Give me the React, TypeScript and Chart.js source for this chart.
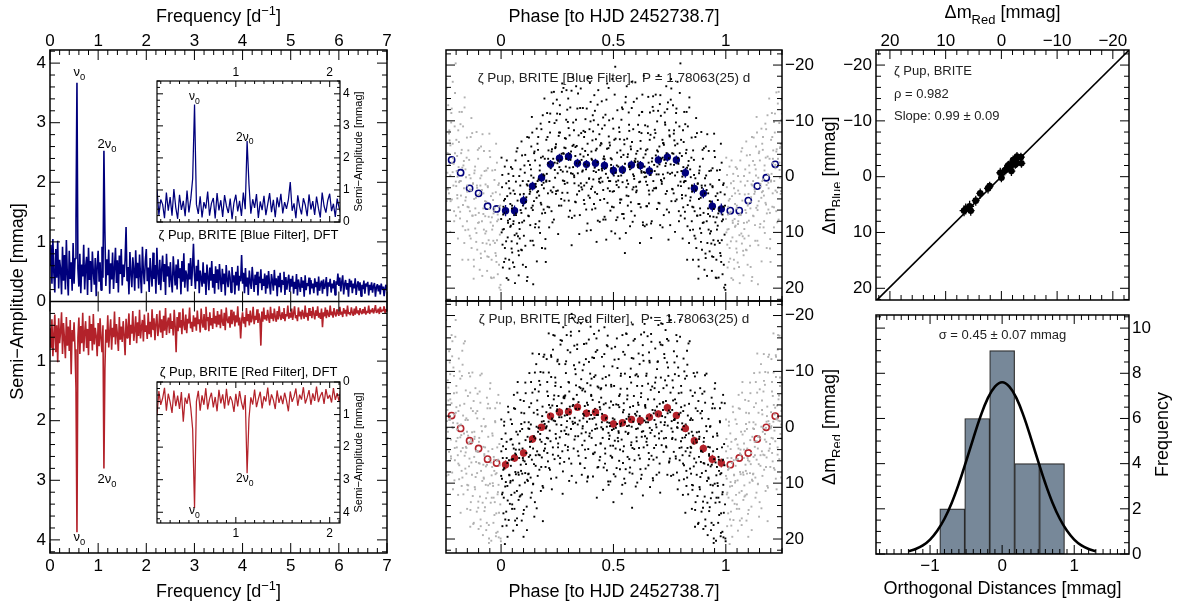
import React, { useEffect, useRef } from 'react';
import { Chart, registerables } from 'chart.js';

Chart.register(...registerables);

const FONT = '"Liberation Sans", Arial, Helvetica, sans-serif';
Chart.defaults.font.family = FONT;
Chart.defaults.color = '#000';

const NAVY = '#00007c';
const FIREBRICK = '#b3222a';
const GRAY_DOT = '#b0b0b0';
const HIST_FILL = '#778899';

// ---------------- DFT spectra (semi-amplitude, mmag), frequency grid 0..7 d^-1 ----------------
const FREQ_STEP = 0.02;
const blueAmp = [
  0.62, 0.95, 0.30, 1.05, 0.48, 0.15, 0.88, 0.40, 1.02, 0.22, 0.70, 0.55, 0.12, 0.92, 0.35, 0.78, 0.20, 1.03, 0.45, 0.10, 0.85, 0.38, 0.66, 0.18, 0.98,
  0.30, 0.72, 1.35, 3.67, 0.55, 0.25, 0.80, 0.14, 0.62, 0.42, 0.95, 0.20, 0.58, 0.75, 0.11, 0.90, 0.36, 0.68, 0.16, 0.84, 0.50, 0.28, 0.73, 0.09, 0.60,
  0.85, 0.33, 0.66, 0.19, 0.92, 0.40, 2.53, 1.18, 0.26, 0.71, 0.44, 0.87, 0.13, 0.64, 0.37, 0.82, 0.21, 0.56, 0.90, 0.31, 0.69, 0.15, 0.77, 0.46, 0.88,
  0.27, 0.62, 0.41, 0.70, 1.25, 0.35, 0.58, 0.12, 0.83, 0.47, 0.24, 0.74, 0.53, 0.18, 0.86, 0.39, 0.65, 0.22, 0.79, 0.43, 0.14, 0.92, 0.50, 0.29, 0.68,
  0.88, 0.34, 0.57, 0.16, 0.73, 0.45, 0.25, 0.82, 0.38, 0.61, 0.13, 0.90, 0.48, 0.28, 0.70, 0.19, 0.55, 0.77, 0.33, 0.63, 0.11, 0.80, 0.42, 0.59, 0.24,
  0.66, 0.36, 0.15, 0.76, 0.49, 0.27, 0.62, 0.20, 0.71, 0.40, 0.56, 0.12, 0.68, 0.33, 0.81, 0.23, 0.52, 0.44, 0.17, 0.64, 0.37, 0.73, 0.26, 0.58, 0.97,
  0.45, 0.21, 0.60, 0.34, 0.70, 0.14, 0.52, 0.39, 0.25, 0.66, 0.30, 0.48, 0.11, 0.62, 0.42, 0.19, 0.57, 0.35, 0.68, 0.23, 0.46, 0.13, 0.59, 0.31, 0.54,
  0.20, 0.63, 0.38, 0.16, 0.55, 0.29, 0.47, 0.10, 0.61, 0.36, 0.24, 0.52, 0.41, 0.15, 0.58, 0.32, 0.44, 0.12, 0.50, 0.27, 0.60, 0.18, 0.43, 0.34, 0.78,
  0.30, 0.48, 0.14, 0.56, 0.25, 0.40, 0.11, 0.52, 0.33, 0.21, 0.58, 0.37, 0.16, 0.45, 0.28, 0.50, 0.10, 0.42, 0.31, 0.54, 0.19, 0.38, 0.26, 0.47, 0.13,
  0.44, 0.22, 0.51, 0.30, 0.12, 0.46, 0.35, 0.18, 0.53, 0.27, 0.39, 0.09, 0.43, 0.24, 0.48, 0.15, 0.36, 0.29, 0.50, 0.11, 0.41, 0.20, 0.34, 0.45, 0.16,
  0.38, 0.25, 0.43, 0.13, 0.33, 0.21, 0.46, 0.10, 0.37, 0.28, 0.16, 0.41, 0.23, 0.35, 0.08, 0.44, 0.19, 0.31, 0.26, 0.40, 0.12, 0.36, 0.22, 0.30, 0.14,
  0.39, 0.24, 0.33, 0.10, 0.42, 0.18, 0.29, 0.35, 0.13, 0.37, 0.21, 0.27, 0.41, 0.09, 0.32, 0.25, 0.38, 0.15, 0.30, 0.22, 0.36, 0.11, 0.34, 0.28, 0.47,
  0.26, 0.40, 0.17, 0.33, 0.44, 0.12, 0.29, 0.36, 0.20, 0.31, 0.08, 0.38, 0.24, 0.35, 0.14, 0.30, 0.22, 0.39, 0.11, 0.27, 0.34, 0.18, 0.32, 0.09, 0.28,
  0.21, 0.35, 0.13, 0.30, 0.25, 0.33, 0.10, 0.28, 0.19, 0.32, 0.15, 0.26, 0.31, 0.08, 0.24, 0.29, 0.17, 0.27, 0.12, 0.30, 0.20, 0.25, 0.09, 0.23, 0.28, 0.18,
];
const redAmp = [
  0.45, 0.78, 0.30, 0.92, 0.55, 0.22, 0.85, 0.40, 1.02, 0.28, 0.70, 0.50, 0.18, 0.88, 0.36, 0.62, 0.95, 0.26, 0.74, 0.42, 0.83, 0.31, 1.22, 0.48, 0.67,
  0.35, 0.80, 1.45, 3.87, 0.60, 0.27, 0.88, 0.41, 0.70, 0.19, 0.84, 0.52, 0.33, 0.78, 0.46, 0.90, 0.24, 0.66, 0.38, 0.82, 0.21, 0.72, 0.44, 0.58, 0.92,
  0.36, 0.75, 0.28, 0.63, 0.85, 0.40, 2.80, 1.13, 0.47, 0.69, 0.23, 0.77, 0.52, 0.30, 0.81, 0.44, 0.60, 0.17, 0.72, 0.38, 0.55, 0.83, 0.26, 0.64, 0.42,
  0.68, 0.33, 0.57, 0.90, 0.29, 0.61, 0.45, 0.20, 0.73, 0.39, 0.54, 0.16, 0.66, 0.48, 0.25, 0.70, 0.35, 0.58, 0.14, 0.62, 0.43, 0.31, 0.67, 0.22, 0.51,
  0.40, 0.63, 0.19, 0.55, 0.34, 0.60, 0.13, 0.47, 0.28, 0.65, 0.37, 0.21, 0.58, 0.44, 0.15, 0.52, 0.30, 0.61, 0.24, 0.49, 0.11, 0.56, 0.36, 0.27, 0.53,
  0.20, 0.46, 0.33, 0.57, 0.14, 0.41, 0.85, 0.26, 0.50, 0.18, 0.44, 0.31, 0.55, 0.12, 0.39, 0.48, 0.22, 0.53, 0.29, 0.37, 0.10, 0.45, 0.34, 0.51, 0.23,
  0.42, 0.27, 0.49, 0.15, 0.38, 0.30, 0.52, 0.12, 0.35, 0.44, 0.21, 0.47, 0.09, 0.33, 0.26, 0.50, 0.18, 0.40, 0.28, 0.46, 0.11, 0.37, 0.24, 0.43, 0.16,
  0.39, 0.22, 0.45, 0.13, 0.34, 0.41, 0.19, 0.48, 0.10, 0.31, 0.36, 0.25, 0.44, 0.14, 0.38, 0.29, 0.17, 0.42, 0.23, 0.35, 0.08, 0.40, 0.27, 0.62, 0.32,
  0.18, 0.37, 0.26, 0.43, 0.11, 0.33, 0.21, 0.40, 0.15, 0.35, 0.28, 0.09, 0.38, 0.24, 0.31, 0.13, 0.36, 0.20, 0.29, 0.74, 0.17, 0.34, 0.10, 0.30, 0.23,
  0.32, 0.14, 0.27, 0.36, 0.09, 0.29, 0.20, 0.33, 0.12, 0.26, 0.34, 0.16, 0.30, 0.08, 0.24, 0.31, 0.18, 0.28, 0.11, 0.33, 0.21, 0.25, 0.07, 0.29, 0.19,
  0.27, 0.12, 0.31, 0.20, 0.08, 0.28, 0.23, 0.33, 0.10, 0.25, 0.17, 0.30, 0.14, 0.22, 0.29, 0.07, 0.26, 0.19, 0.32, 0.11, 0.24, 0.16, 0.28, 0.09, 0.21,
  0.30, 0.15, 0.24, 0.08, 0.27, 0.19, 0.29, 0.12, 0.43, 0.18, 0.25, 0.10, 0.28, 0.14, 0.22, 0.26, 0.07, 0.23, 0.17, 0.27, 0.11, 0.21, 0.25, 0.13, 0.20,
  0.24, 0.09, 0.22, 0.17, 0.26, 0.11, 0.20, 0.14, 0.25, 0.07, 0.21, 0.18, 0.23, 0.10, 0.19, 0.24, 0.12, 0.22, 0.08, 0.20, 0.15, 0.23, 0.11, 0.18, 0.21,
  0.13, 0.20, 0.09, 0.22, 0.16, 0.19, 0.07, 0.21, 0.14, 0.18, 0.11, 0.20, 0.15, 0.06, 0.19, 0.17, 0.12, 0.21, 0.09, 0.18, 0.14, 0.16, 0.08, 0.19, 0.13, 0.17,
];
const peakIdx = [28, 56]; // nu0 and 2 nu0 on the frequency grid

// ---------------- phased photometry (phase, delta-mag in mmag), three observing subsets ----------------
const bluePhase = [
  0.002,0.007,0.008,0.013,0.017,0.018,0.023,0.025,0.031,0.033,0.036,0.039,
  0.041,0.044,0.047,0.049,0.053,0.055,0.058,0.062,0.066,0.069,0.073,0.077,
  0.081,0.083,0.087,0.091,0.094,0.097,0.101,0.104,0.108,0.111,0.115,0.118,
  0.121,0.124,0.128,0.131,0.133,0.137,0.141,0.143,0.147,0.151,0.154,0.158,
  0.162,0.165,0.168,0.172,0.176,0.179,0.182,0.186,0.189,0.193,0.196,0.199,
  0.201,0.205,0.207,0.211,0.214,0.218,0.221,0.225,0.228,0.232,0.235,0.238,
  0.241,0.244,0.248,0.252,0.254,0.258,0.262,0.265,0.268,0.272,0.275,0.279,
  0.282,0.284,0.288,0.291,0.295,0.297,0.301,0.305,0.308,0.311,0.314,0.318,
  0.321,0.325,0.327,0.331,0.334,0.338,0.342,0.345,0.348,0.352,0.355,0.358,
  0.361,0.364,0.367,0.371,0.374,0.378,0.381,0.385,0.388,0.392,0.395,0.398,
  0.402,0.405,0.408,0.412,0.415,0.418,0.422,0.425,0.429,0.432,0.436,0.439,
  0.441,0.445,0.448,0.451,0.455,0.458,0.461,0.465,0.468,0.472,0.475,0.478,
  0.481,0.484,0.488,0.491,0.495,0.497,0.501,0.504,0.508,0.512,0.515,0.518,
  0.522,0.525,0.528,0.531,0.535,0.538,0.542,0.545,0.548,0.551,0.555,0.558,
  0.561,0.564,0.568,0.571,0.574,0.578,0.581,0.585,0.588,0.591,0.595,0.598,
  0.601,0.604,0.608,0.611,0.615,0.618,0.621,0.625,0.628,0.631,0.635,0.638,
  0.641,0.645,0.648,0.651,0.655,0.658,0.662,0.665,0.668,0.671,0.675,0.678,
  0.681,0.684,0.688,0.692,0.694,0.698,0.701,0.705,0.708,0.711,0.715,0.718,
  0.721,0.724,0.728,0.731,0.735,0.738,0.741,0.745,0.748,0.752,0.755,0.758,
  0.761,0.765,0.768,0.771,0.774,0.778,0.781,0.785,0.788,0.791,0.795,0.798,
  0.801,0.805,0.808,0.811,0.815,0.818,0.821,0.825,0.828,0.831,0.835,0.838,
  0.841,0.844,0.848,0.851,0.854,0.858,0.861,0.865,0.868,0.872,0.875,0.878,
  0.881,0.885,0.888,0.891,0.894,0.898,0.901,0.905,0.908,0.911,0.915,0.918,
  0.921,0.924,0.928,0.931,0.934,0.938,0.941,0.945,0.948,0.951,0.955,0.958,
  0.961,0.964,0.968,0.971,0.975,0.978,0.982,0.985,0.988,0.991,0.995,0.998,
];
const blueMag = [
  -3.4, 9.5, 16.3, 4.3, 12.8, 6.5, 1.2, 18.2, 8.3, -0.5, 14.9, 7.6,
  9.0, -1.7, 11.6, 5.2, 15.4, 2.5, 6.9, 19.1, 0.9, 10.2, -5.1, 13.3,
  -0.1, 11.1, 6.0, -6.3, 8.2, 15.8, 3.1, -2.0, 12.4, 4.5, 18.7, 1.6,
  7.0, -7.0, 2.3, 11.5, -1.3, -10.7, 5.2, 19.3, -4.2, 9.1, 1.3, 3.8,
  -5.9, 2.6, 9.1, -1.1, -9.5, 5.0, 12.8, -3.6, 1.1, -14.0, 6.5, 15.3,
  0.9, -11.4, 5.4, -4.7, 9.1, -7.9, -1.5, -15.1, 2.8, -3.2, 7.7, -9.6,
  -5.1, 3.1, -13.8, -0.6, 10.3, -7.9, -11.2, -3.0, 5.2, -16.7, 0.7, -4.1,
  4.3, -6.9, -1.8, -15.5, 1.1, -9.8, 7.2, -4.1, -12.4, -0.6, 12.3, -5.5,
  -9.7, -0.2, 7.0, -5.3, -16.2, 3.2, -2.3, -7.4, 10.3, -12.3, 1.2, -3.0,
  2.3, -12.3, -3.6, 4.9, -8.0, -1.3, 9.7, -5.9, -17.8, 0.3, 3.8, -9.9,
  -4.5, 5.9, -11.0, -1.0, -14.6, 2.8, -6.7, 11.7, -2.6, -9.3, 0.9, 8.1,
  4.2, -6.0, -13.5, 0.9, 7.7, -3.6, -9.2, -1.5, 11.3, -16.7, 2.1, -5.1,
  -10.1, 2.6, -3.3, 9.8, -17.5, -0.5, 5.5, -6.6, -19.7, 0.9, -2.0, 7.3,
  -0.1, -8.8, 11.1, -4.7, 4.1, -12.4, -1.6, 6.7, -6.6, 13.7, -14.3, 1.9,
  -6.8, 5.2, -11.5, -1.7, 8.9, -4.9, -17.0, 2.3, -8.5, -0.1, 7.0, -3.2,
  1.8, -14.0, -2.7, 4.9, -8.0, 11.9, -5.0, -0.7, -11.6, 8.2, -18.1, -1.8,
  -9.2, 0.9, 8.6, -4.9, -14.3, 4.8, -1.0, -7.5, 11.0, -2.7, 2.5, -11.8,
  2.1, -8.4, -14.7, -0.4, 5.8, -4.5, -18.2, -2.2, 8.7, -10.9, 0.9, -6.6,
  -6.0, 6.9, -11.5, -1.9, -16.2, 2.6, -4.1, 11.3, -8.3, -0.5, -13.8, 4.4,
  -0.7, -12.8, 3.0, -6.5, 9.9, -9.7, -2.5, -17.0, 1.6, 6.2, -4.2, -20.3,
  -6.6, 3.3, 11.1, -1.7, -11.6, 6.3, 0.8, -4.8, 14.9, -9.0, 2.1, -14.2,
  9.6, 0.1, -7.0, 5.4, 14.9, -3.0, 2.3, 11.1, -10.5, 7.0, 1.3, 18.3,
  -0.6, 9.3, 3.8, -8.0, 13.1, -3.2, 6.5, 16.7, 1.6, -5.4, 8.0, 11.9,
  5.7, -4.6, 13.4, 1.4, 9.8, 16.9, -1.5, 7.2, -7.7, 12.2, 3.5, 14.9,
  -1.1, 8.8, 18.1, 5.6, 13.7, -5.9, 11.4, 6.8, 1.5, 15.8, 3.2, 20.3,
];
const bluePhaseB = [
  0.0005,0.0045,0.0065,0.0105,0.0125,0.0165,0.0195,0.0215,0.0275,0.0295,0.0345,0.0375,
  0.0415,0.0435,0.0485,0.0495,0.0545,0.0555,0.0605,0.0645,0.0665,0.0715,0.0735,0.0785,
  0.0805,0.0845,0.0865,0.0905,0.0925,0.0965,0.0995,0.1015,0.1075,0.1095,0.1145,0.1175,
  0.1215,0.1235,0.1285,0.1295,0.1345,0.1355,0.1405,0.1445,0.1465,0.1515,0.1535,0.1585,
  0.1605,0.1645,0.1665,0.1705,0.1725,0.1765,0.1795,0.1815,0.1875,0.1895,0.1945,0.1975,
  0.2015,0.2035,0.2085,0.2095,0.2145,0.2155,0.2205,0.2245,0.2265,0.2315,0.2335,0.2385,
  0.2405,0.2445,0.2465,0.2505,0.2525,0.2565,0.2595,0.2615,0.2675,0.2695,0.2745,0.2775,
  0.2815,0.2835,0.2885,0.2895,0.2945,0.2955,0.3005,0.3045,0.3065,0.3115,0.3135,0.3185,
  0.3205,0.3245,0.3265,0.3305,0.3325,0.3365,0.3395,0.3415,0.3475,0.3495,0.3545,0.3575,
  0.3615,0.3635,0.3685,0.3695,0.3745,0.3755,0.3805,0.3845,0.3865,0.3915,0.3935,0.3985,
  0.4005,0.4045,0.4065,0.4105,0.4125,0.4165,0.4195,0.4215,0.4275,0.4295,0.4345,0.4375,
  0.4415,0.4435,0.4485,0.4495,0.4545,0.4555,0.4605,0.4645,0.4665,0.4715,0.4735,0.4785,
  0.4805,0.4845,0.4865,0.4905,0.4925,0.4965,0.4995,0.5015,0.5075,0.5095,0.5145,0.5175,
  0.5215,0.5235,0.5285,0.5295,0.5345,0.5355,0.5405,0.5445,0.5465,0.5515,0.5535,0.5585,
  0.5605,0.5645,0.5665,0.5705,0.5725,0.5765,0.5795,0.5815,0.5875,0.5895,0.5945,0.5975,
  0.6015,0.6035,0.6085,0.6095,0.6145,0.6155,0.6205,0.6245,0.6265,0.6315,0.6335,0.6385,
  0.6405,0.6445,0.6465,0.6505,0.6525,0.6565,0.6595,0.6615,0.6675,0.6695,0.6745,0.6775,
  0.6815,0.6835,0.6885,0.6895,0.6945,0.6955,0.7005,0.7045,0.7065,0.7115,0.7135,0.7185,
  0.7205,0.7245,0.7265,0.7305,0.7325,0.7365,0.7395,0.7415,0.7475,0.7495,0.7545,0.7575,
  0.7615,0.7635,0.7685,0.7695,0.7745,0.7755,0.7805,0.7845,0.7865,0.7915,0.7935,0.7985,
  0.8005,0.8045,0.8065,0.8105,0.8125,0.8165,0.8195,0.8215,0.8275,0.8295,0.8345,0.8375,
  0.8415,0.8435,0.8485,0.8495,0.8545,0.8555,0.8605,0.8645,0.8665,0.8715,0.8735,0.8785,
  0.8805,0.8845,0.8865,0.8905,0.8925,0.8965,0.8995,0.9015,0.9075,0.9095,0.9145,0.9175,
  0.9215,0.9235,0.9285,0.9295,0.9345,0.9355,0.9405,0.9445,0.9465,0.9515,0.9535,0.9585,
  0.9605,0.9645,0.9665,0.9705,0.9725,0.9765,0.9795,0.9815,0.9875,0.9895,0.9945,0.9975,
];
const blueMagB = [
  7.6, 1.9, 12.2, 5.4, 9.4, -1.8, 14.7, 6.3, 3.5, 10.9, 0.8, 16.5,
  3.0, 8.8, 5.7, 13.6, -0.1, 8.0, 10.5, -2.9, 6.9, 12.0, 4.3, 17.7,
  8.3, 3.2, -1.3, 6.5, 13.2, 0.8, 4.8, 10.6, -3.9, 5.7, 1.4, 18.0,
  0.8, 7.1, -2.1, 2.7, -5.4, 5.6, 11.5, 0.2, 4.4, -2.9, 8.5, -8.6,
  2.8, -4.8, 0.5, 8.0, -2.0, 4.7, -8.5, 1.5, -0.4, 5.9, -3.2, 11.2,
  -6.6, -0.5, 3.0, -3.2, -9.8, 0.8, -2.1, 6.2, -4.9, -13.1, 1.9, -2.5,
  0.2, -5.8, -10.1, -2.4, 2.5, -7.3, -1.7, -12.8, 4.0, -4.1, -0.9, -15.9,
  -5.2, 1.3, -6.8, -3.2, -12.0, 2.9, -8.7, -1.6, 6.1, -4.5, -15.4, -0.5,
  -1.7, -8.3, 1.2, -3.7, 4.6, -5.5, -12.2, -0.6, 2.6, -2.6, -15.8, 1.9,
  -5.0, -1.1, 4.2, -7.1, -2.2, -10.3, 1.1, 8.4, -3.9, 0.4, -8.5, -13.4,
  2.2, -3.0, -6.5, 0.5, -10.1, -1.6, 5.7, -4.7, 3.1, -12.9, -1.2, -7.6,
  -5.6, 0.2, -1.4, -8.6, 2.4, -3.2, 7.2, -11.1, -0.5, -5.0, 4.7, -15.9,
  0.8, -5.6, 6.1, -1.5, -3.1, 2.7, -8.6, -0.2, 10.2, -6.8, 1.5, -11.9,
  -1.8, 1.9, -6.7, 4.7, -0.2, -10.2, 1.0, -3.9, 7.5, -2.3, -13.3, 3.4,
  0.7, -4.0, 3.5, -8.2, -1.9, -5.4, 6.2, -12.3, -0.4, 1.9, -2.8, -16.9,
  -4.1, 2.5, -2.1, -9.3, 1.0, 4.9, -6.4, -1.0, -11.6, 8.7, -3.4, 0.1,
  -0.7, -4.7, 5.3, 1.5, -9.0, -2.5, 3.2, -6.6, 8.4, -1.0, -12.5, 0.8,
  -7.0, -1.0, -3.8, 2.1, -9.9, -1.8, 4.7, -5.4, -13.0, 0.6, -3.2, 9.1,
  -0.4, -5.7, -3.0, -9.3, 3.1, -4.2, -12.1, -0.7, 6.4, -7.4, -2.2, -15.8,
  -4.2, 2.3, -7.7, -2.1, -5.6, 4.4, -12.2, -0.8, -3.3, 8.0, -9.0, 0.9,
  1.7, -3.7, 0.0, 5.5, -6.2, 0.8, -9.4, 3.4, -1.6, 8.9, -2.8, -12.4,
  -1.3, 3.7, 8.0, 1.6, -4.7, 5.5, 10.6, 0.3, 2.5, -7.8, 7.0, 14.9,
  4.0, -1.8, 6.9, 10.1, 1.6, -4.8, 3.3, 8.2, 0.3, 13.8, 2.4, -7.6,
  3.0, 9.5, 4.4, 7.1, -1.1, 12.0, 1.7, 14.4, 5.8, -3.5, 8.2, 18.2,
  9.5, 4.2, 6.6, 0.6, 11.9, 2.8, 15.3, -2.5, 7.7, 5.4, 10.4, 19.4,
];
const bluePhaseC = [
  0.0025,0.0055,0.0095,0.0135,0.0175,0.0225,0.0255,0.0305,0.0325,0.0365,
  0.0412,0.0468,0.0498,0.0542,0.0588,0.0612,0.0648,0.0688,0.0752,0.0792,
  0.0825,0.0855,0.0895,0.0935,0.0975,0.1025,0.1055,0.1105,0.1125,0.1165,
  0.1212,0.1268,0.1298,0.1342,0.1388,0.1412,0.1448,0.1488,0.1552,0.1592,
  0.1625,0.1655,0.1695,0.1735,0.1775,0.1825,0.1855,0.1905,0.1925,0.1965,
  0.2012,0.2068,0.2098,0.2142,0.2188,0.2212,0.2248,0.2288,0.2352,0.2392,
  0.2425,0.2455,0.2495,0.2535,0.2575,0.2625,0.2655,0.2705,0.2725,0.2765,
  0.2812,0.2868,0.2898,0.2942,0.2988,0.3012,0.3048,0.3088,0.3152,0.3192,
  0.3225,0.3255,0.3295,0.3335,0.3375,0.3425,0.3455,0.3505,0.3525,0.3565,
  0.3612,0.3668,0.3698,0.3742,0.3788,0.3812,0.3848,0.3888,0.3952,0.3992,
  0.4025,0.4055,0.4095,0.4135,0.4175,0.4225,0.4255,0.4305,0.4325,0.4365,
  0.4412,0.4468,0.4498,0.4542,0.4588,0.4612,0.4648,0.4688,0.4752,0.4792,
  0.4825,0.4855,0.4895,0.4935,0.4975,0.5025,0.5055,0.5105,0.5125,0.5165,
  0.5212,0.5268,0.5298,0.5342,0.5388,0.5412,0.5448,0.5488,0.5552,0.5592,
  0.5625,0.5655,0.5695,0.5735,0.5775,0.5825,0.5855,0.5905,0.5925,0.5965,
  0.6012,0.6068,0.6098,0.6142,0.6188,0.6212,0.6248,0.6288,0.6352,0.6392,
  0.6425,0.6455,0.6495,0.6535,0.6575,0.6625,0.6655,0.6705,0.6725,0.6765,
  0.6812,0.6868,0.6898,0.6942,0.6988,0.7012,0.7048,0.7088,0.7152,0.7192,
  0.7225,0.7255,0.7295,0.7335,0.7375,0.7425,0.7455,0.7505,0.7525,0.7565,
  0.7612,0.7668,0.7698,0.7742,0.7788,0.7812,0.7848,0.7888,0.7952,0.7992,
  0.8025,0.8055,0.8095,0.8135,0.8175,0.8225,0.8255,0.8305,0.8325,0.8365,
  0.8412,0.8468,0.8498,0.8542,0.8588,0.8612,0.8648,0.8688,0.8752,0.8792,
  0.8825,0.8855,0.8895,0.8935,0.8975,0.9025,0.9055,0.9105,0.9125,0.9165,
  0.9212,0.9268,0.9298,0.9342,0.9388,0.9412,0.9448,0.9488,0.9552,0.9592,
  0.9625,0.9655,0.9695,0.9735,0.9775,0.9825,0.9855,0.9905,0.9925,0.9965,
];
const blueMagC = [
  10.0, -0.3, 6.8, 15.3, 4.0, 11.6, -2.9, 7.9, 18.5, 2.1,
  4.9, 12.9, -1.4, 8.5, 16.2, 3.1, 6.6, -4.5, 10.7, 14.1,
  9.4, 1.6, 13.1, -3.8, 5.2, 7.9, -0.7, 16.2, 3.7, -7.1,
  -2.8, 3.1, 8.7, -0.2, -7.9, 6.0, 12.3, -4.5, 1.8, 15.2,
  0.8, -7.1, 3.4, 10.1, -3.4, 6.6, -11.0, 2.1, -0.2, 12.9,
  0.7, -7.1, -2.4, 5.5, -11.3, 2.5, -4.5, 8.2, -15.2, -1.2,
  -5.3, 2.6, -11.3, -2.9, 5.2, -7.9, -1.2, -15.2, 2.9, -4.2,
  0.8, -5.1, -10.2, -0.9, -14.0, 4.3, -7.4, -3.0, 7.4, -17.8,
  -5.7, 0.1, 4.5, -10.2, -2.4, -14.9, 1.6, 6.9, -4.0, -7.8,
  -0.9, -8.2, 1.6, -4.6, 5.9, -12.2, -2.0, 3.4, -16.8, 9.6,
  -3.2, 1.8, -8.1, 4.9, -11.8, -0.8, -5.0, 7.9, -15.5, 0.4,
  1.1, -5.9, -1.1, -10.6, 4.0, -3.1, 7.7, -13.8, 0.2, -7.2,
  -6.1, 0.8, -2.1, 5.4, -10.4, 2.6, -14.7, -0.7, 7.8, -4.3,
  0.7, -8.0, 4.1, -3.5, 6.7, -12.1, -0.7, -5.8, 10.1, -16.2,
  -3.5, 1.3, -9.3, -1.3, 4.6, -6.2, 8.1, -13.4, 0.4, -2.6,
  2.8, -4.6, -1.7, -11.0, 0.9, 5.5, -7.8, -14.7, -0.8, 8.9,
  -4.0, 0.0, 5.3, -7.8, 2.5, -11.5, -0.3, 8.0, -3.3, -14.4,
  -2.1, -7.8, 2.0, -4.7, -11.8, -0.4, 4.8, -14.6, 1.3, -3.4,
  -6.0, 0.3, -9.7, -2.4, 5.9, -13.3, -3.3, -7.2, 8.7, -17.5,
  2.2, -4.1, -8.3, -0.2, -11.4, 4.1, -5.9, -2.3, -15.0, 7.0,
  -1.0, 3.9, -8.3, 1.0, 7.5, -4.2, -11.6, 5.1, -2.0, 11.9,
  4.3, -3.4, 2.7, 9.5, -0.3, 6.2, -7.1, 12.8, 1.2, 16.1,
  -1.1, 5.7, 11.7, 2.0, 8.3, -5.1, 3.0, 14.6, -0.2, 17.8,
  6.7, -1.0, 10.2, 4.5, 14.3, 1.9, 11.4, -4.6, 18.1, 7.3,
  3.0, 11.5, 6.1, -1.2, 14.2, 8.0, 17.5, 1.2, 19.9, 5.2,
];
const redPhase = [
  0.001,0.004,0.006,0.009,0.012,0.014,0.017,0.020,0.023,0.025,0.028,0.031,0.034,0.037,
  0.041,0.043,0.046,0.049,0.052,0.054,0.057,0.060,0.063,0.066,0.068,0.071,0.074,0.078,
  0.081,0.083,0.086,0.089,0.092,0.094,0.097,0.100,0.103,0.106,0.108,0.111,0.114,0.118,
  0.121,0.123,0.126,0.129,0.132,0.134,0.137,0.140,0.143,0.146,0.148,0.151,0.154,0.158,
  0.161,0.163,0.166,0.169,0.172,0.174,0.177,0.180,0.183,0.186,0.188,0.191,0.194,0.198,
  0.201,0.203,0.206,0.209,0.212,0.214,0.217,0.220,0.223,0.226,0.228,0.231,0.234,0.238,
  0.241,0.243,0.246,0.249,0.252,0.254,0.257,0.260,0.263,0.266,0.268,0.271,0.274,0.278,
  0.281,0.283,0.286,0.289,0.292,0.294,0.297,0.300,0.303,0.306,0.308,0.311,0.314,0.318,
  0.321,0.323,0.326,0.329,0.332,0.334,0.337,0.340,0.343,0.346,0.348,0.351,0.354,0.358,
  0.361,0.363,0.366,0.369,0.372,0.374,0.377,0.380,0.383,0.386,0.388,0.391,0.394,0.398,
  0.401,0.403,0.406,0.409,0.412,0.414,0.417,0.420,0.423,0.426,0.428,0.431,0.434,0.438,
  0.441,0.443,0.446,0.449,0.452,0.454,0.457,0.460,0.463,0.466,0.468,0.471,0.474,0.478,
  0.481,0.483,0.486,0.489,0.492,0.494,0.497,0.500,0.503,0.506,0.508,0.511,0.514,0.518,
  0.521,0.523,0.526,0.529,0.532,0.534,0.537,0.540,0.543,0.546,0.548,0.551,0.554,0.558,
  0.561,0.563,0.566,0.569,0.572,0.574,0.577,0.580,0.583,0.586,0.588,0.591,0.594,0.598,
  0.601,0.603,0.606,0.609,0.612,0.614,0.617,0.620,0.623,0.626,0.628,0.631,0.634,0.638,
  0.641,0.643,0.646,0.649,0.652,0.654,0.657,0.660,0.663,0.666,0.668,0.671,0.674,0.678,
  0.681,0.683,0.686,0.689,0.692,0.694,0.697,0.700,0.703,0.706,0.708,0.711,0.714,0.718,
  0.721,0.723,0.726,0.729,0.732,0.734,0.737,0.740,0.743,0.746,0.748,0.751,0.754,0.758,
  0.761,0.763,0.766,0.769,0.772,0.774,0.777,0.780,0.783,0.786,0.788,0.791,0.794,0.798,
  0.801,0.803,0.806,0.809,0.812,0.814,0.817,0.820,0.823,0.826,0.828,0.831,0.834,0.838,
  0.841,0.843,0.846,0.849,0.852,0.854,0.857,0.860,0.863,0.866,0.868,0.871,0.874,0.878,
  0.881,0.883,0.886,0.889,0.892,0.894,0.897,0.900,0.903,0.906,0.908,0.911,0.914,0.918,
  0.921,0.923,0.926,0.929,0.932,0.934,0.937,0.940,0.943,0.946,0.948,0.951,0.954,0.958,
  0.961,0.963,0.966,0.969,0.972,0.974,0.977,0.980,0.983,0.986,0.988,0.991,0.994,0.998,
];
const redMag = [
  -1.4, 9.2, 17.7, 3.4, 12.6, 7.4, 20.9, 1.1, 15.1, 5.5, 10.5, -3.7, 16.6, 8.6,
  9.9, -1.4, 5.8, 14.6, 3.1, 18.5, -5.8, 11.7, 4.7, 8.4, 0.8, 16.3, -8.1, 13.0,
  2.9, 12.4, -4.9, 7.8, 16.7, 0.3, 5.5, 19.6, -2.5, 9.9, -8.0, 6.6, 14.2, 1.7,
  8.4, -0.9, -9.7, 3.5, 12.6, -4.3, 5.8, -13.2, 10.1, 1.6, 16.0, -6.8, 6.9, -0.1,
  -4.8, 8.7, 0.1, -13.1, 5.0, -7.6, 11.4, 2.6, -2.0, 16.8, -9.8, 4.2, -0.6, 7.1,
  0.0, -12.2, 4.6, -5.6, -16.8, 7.3, -2.3, 2.5, -9.0, 11.1, -3.9, -13.9, -1.2, 5.7,
  -8.9, 1.2, 9.0, -3.8, -12.1, 2.9, -18.7, -2.3, 5.5, -7.2, -0.4, -15.5, 11.9, -5.3,
  6.2, -5.5, -11.3, 1.2, -16.5, -2.2, 4.1, -8.1, 9.6, -3.7, -13.4, 0.3, -20.3, -1.0,
  -4.0, 3.8, -14.6, -0.8, -9.5, 9.9, -5.8, -18.7, 1.6, -3.3, -11.6, 6.5, -7.0, 1.1,
  3.2, -10.2, -1.6, -14.9, 7.3, -6.4, 0.9, -19.1, 9.7, -4.0, 3.9, -11.7, -1.5, -7.5,
  -5.8, 1.9, -12.5, 8.8, -2.8, -16.7, 4.5, -9.3, -0.5, 12.6, -13.8, -2.2, -7.1, 5.9,
  5.3, -6.8, 0.0, -12.6, 1.9, 11.2, -4.1, -17.9, 3.8, -9.0, -1.7, 7.7, -14.5, 1.0,
  -9.3, 1.5, 9.7, -4.6, -14.1, 5.4, -1.6, 13.4, -7.4, 2.4, -19.0, 0.1, 7.3, -10.6,
  2.5, -12.2, -3.6, 7.5, -6.9, -0.6, 11.9, -16.5, 4.3, -4.3, 9.2, -9.6, 0.8, -1.5,
  -6.9, 5.3, -14.7, -0.3, 8.1, -3.6, -10.5, 2.7, 14.4, -18.4, -1.0, -5.6, 5.9, -9.3,
  0.3, -9.5, 9.9, -4.4, -13.2, 3.7, -2.0, 7.5, -16.6, 1.7, -7.4, 12.2, -11.9, -1.2,
  -3.8, 7.4, -9.2, 2.0, -16.3, -0.9, 4.6, -11.9, 10.7, -6.7, -19.6, 0.5, -3.1, 5.8,
  3.7, -7.0, -14.1, -0.5, 8.5, -10.4, -2.3, -18.3, 2.0, -4.2, 11.7, -8.9, 0.7, -14.7,
  -4.5, 4.4, -13.1, -0.9, -17.4, 1.9, -7.5, 8.5, -10.7, -3.0, -19.9, 5.6, -6.2, 0.2,
  2.1, -8.4, 8.5, -13.6, -1.3, -5.0, 5.2, -16.5, 0.0, 11.1, -10.7, -2.3, 3.7, -19.2,
  -7.4, 3.6, -0.7, 12.1, -12.3, 6.8, -3.9, 15.3, 1.4, -9.2, 9.0, -2.1, -15.0, 5.1,
  7.4, -6.6, 3.7, 14.6, -1.3, 10.4, -9.7, 2.6, 17.8, -3.4, 6.3, 0.9, 12.3, -4.7,
  0.8, 10.7, -7.0, 6.2, 15.1, -1.6, 4.4, 18.2, 1.9, 12.4, -4.4, 7.8, -9.6, 13.5,
  6.7, -1.5, 15.0, 3.6, 10.3, 18.4, -5.3, 11.7, 1.7, 20.7, 5.7, -3.4, 13.5, 8.6,
  1.1, 10.0, 17.1, 5.8, 13.4, -3.4, 19.5, 8.2, 3.6, 11.6, -5.8, 15.3, 6.8, 19.9,
];
const redPhaseB = [
  0.0005,0.0025,0.0045,0.0075,0.0105,0.0135,0.0155,0.0185,0.0215,0.0245,0.0275,0.0295,0.0325,0.0365,
  0.0415,0.0435,0.0455,0.0485,0.0515,0.0525,0.0565,0.0595,0.0625,0.0635,0.0665,0.0705,0.0745,0.0785,
  0.0805,0.0825,0.0845,0.0875,0.0905,0.0935,0.0955,0.0985,0.1015,0.1045,0.1075,0.1095,0.1125,0.1165,
  0.1215,0.1235,0.1255,0.1285,0.1315,0.1325,0.1365,0.1395,0.1425,0.1435,0.1465,0.1505,0.1545,0.1585,
  0.1605,0.1625,0.1645,0.1675,0.1705,0.1735,0.1755,0.1785,0.1815,0.1845,0.1875,0.1895,0.1925,0.1965,
  0.2015,0.2035,0.2055,0.2085,0.2115,0.2125,0.2165,0.2195,0.2225,0.2235,0.2265,0.2305,0.2345,0.2385,
  0.2405,0.2425,0.2445,0.2475,0.2505,0.2535,0.2555,0.2585,0.2615,0.2645,0.2675,0.2695,0.2725,0.2765,
  0.2815,0.2835,0.2855,0.2885,0.2915,0.2925,0.2965,0.2995,0.3025,0.3035,0.3065,0.3105,0.3145,0.3185,
  0.3205,0.3225,0.3245,0.3275,0.3305,0.3335,0.3355,0.3385,0.3415,0.3445,0.3475,0.3495,0.3525,0.3565,
  0.3615,0.3635,0.3655,0.3685,0.3715,0.3725,0.3765,0.3795,0.3825,0.3835,0.3865,0.3905,0.3945,0.3985,
  0.4005,0.4025,0.4045,0.4075,0.4105,0.4135,0.4155,0.4185,0.4215,0.4245,0.4275,0.4295,0.4325,0.4365,
  0.4415,0.4435,0.4455,0.4485,0.4515,0.4525,0.4565,0.4595,0.4625,0.4635,0.4665,0.4705,0.4745,0.4785,
  0.4805,0.4825,0.4845,0.4875,0.4905,0.4935,0.4955,0.4985,0.5015,0.5045,0.5075,0.5095,0.5125,0.5165,
  0.5215,0.5235,0.5255,0.5285,0.5315,0.5325,0.5365,0.5395,0.5425,0.5435,0.5465,0.5505,0.5545,0.5585,
  0.5605,0.5625,0.5645,0.5675,0.5705,0.5735,0.5755,0.5785,0.5815,0.5845,0.5875,0.5895,0.5925,0.5965,
  0.6015,0.6035,0.6055,0.6085,0.6115,0.6125,0.6165,0.6195,0.6225,0.6235,0.6265,0.6305,0.6345,0.6385,
  0.6405,0.6425,0.6445,0.6475,0.6505,0.6535,0.6555,0.6585,0.6615,0.6645,0.6675,0.6695,0.6725,0.6765,
  0.6815,0.6835,0.6855,0.6885,0.6915,0.6925,0.6965,0.6995,0.7025,0.7035,0.7065,0.7105,0.7145,0.7185,
  0.7205,0.7225,0.7245,0.7275,0.7305,0.7335,0.7355,0.7385,0.7415,0.7445,0.7475,0.7495,0.7525,0.7565,
  0.7615,0.7635,0.7655,0.7685,0.7715,0.7725,0.7765,0.7795,0.7825,0.7835,0.7865,0.7905,0.7945,0.7985,
  0.8005,0.8025,0.8045,0.8075,0.8105,0.8135,0.8155,0.8185,0.8215,0.8245,0.8275,0.8295,0.8325,0.8365,
  0.8415,0.8435,0.8455,0.8485,0.8515,0.8525,0.8565,0.8595,0.8625,0.8635,0.8665,0.8705,0.8745,0.8785,
  0.8805,0.8825,0.8845,0.8875,0.8905,0.8935,0.8955,0.8985,0.9015,0.9045,0.9075,0.9095,0.9125,0.9165,
  0.9215,0.9235,0.9255,0.9285,0.9315,0.9325,0.9365,0.9395,0.9425,0.9435,0.9465,0.9505,0.9545,0.9585,
  0.9605,0.9625,0.9645,0.9675,0.9705,0.9735,0.9755,0.9785,0.9815,0.9845,0.9875,0.9895,0.9925,0.9965,
];
const redMagB = [
  8.7, 2.1, 12.0, 5.5, 15.4, -0.3, 7.3, 10.6, 3.9, 17.6, 6.4, 13.1, -2.7, 8.5,
  2.2, 6.9, 12.1, -0.6, 5.7, 9.5, 3.8, 14.6, -3.3, 8.0, 4.9, 17.5, 1.3, 8.5,
  5.5, 10.4, 0.7, 6.7, -2.6, 12.0, 3.8, 5.9, 14.8, -0.9, 8.2, -6.1, 4.6, 9.4,
  0.2, 5.3, -3.6, 2.6, 9.0, -0.5, 11.7, -6.2, 3.8, 1.7, 6.6, -9.8, 5.0, 14.5,
  4.3, -2.3, 0.8, -6.4, 7.6, 2.2, -9.9, 0.1, 5.4, -3.7, 10.8, -1.1, -13.0, 3.0,
  -2.7, 1.9, -6.4, 6.1, -1.0, -9.8, 0.6, -3.5, 9.2, -12.6, -1.6, 3.6, -5.0, -16.4,
  -1.1, -8.0, 2.0, -2.9, -11.8, 3.6, -5.6, -1.8, 6.5, -14.8, 0.7, -4.3, 4.3, -17.9,
  -5.2, -2.1, 3.2, -9.7, 0.0, -3.3, -13.8, 1.3, 5.6, -6.4, -1.6, -17.1, 8.7, -3.8,
  -0.6, -5.0, -11.1, -1.7, 1.6, -7.5, -3.3, -14.0, 4.3, -4.5, -17.2, -1.2, 6.5, -8.6,
  -6.6, -0.2, -2.4, -11.2, 2.4, -3.8, 5.5, -15.0, -1.0, -7.9, 8.8, -2.9, 1.1, -18.0,
  -2.2, -8.7, 0.6, -4.9, 4.8, -12.4, -1.7, -3.3, 3.2, -15.9, 0.2, -7.3, 7.1, -4.5,
  -3.2, 2.9, -5.3, -0.9, -8.7, 0.3, 7.2, -13.1, -1.5, 4.7, -7.5, -0.1, -16.4, 10.3,
  2.1, -3.5, -0.2, 5.1, -7.3, 0.5, -10.9, 3.3, 8.4, -1.4, -14.4, 3.8, -4.1, -0.6,
  -4.0, 1.0, 6.0, -5.9, -0.2, -9.2, 2.2, 10.3, -2.7, -13.5, 3.4, -0.9, 7.5, -16.7,
  -0.2, -5.7, 1.2, -1.9, 5.7, -9.0, -1.4, 3.2, -12.4, 8.3, -3.8, -15.5, 3.9, -2.4,
  -2.1, 2.5, -7.4, 0.2, -4.0, 5.0, -11.3, -0.5, 9.2, -6.1, 0.8, -14.7, 3.6, -18.5,
  1.6, -3.5, -0.9, -9.6, 3.2, -5.0, 6.8, -13.4, 0.1, -2.1, -16.7, 5.1, -7.3, 9.5,
  -5.0, 1.6, -3.0, -8.9, 0.0, 5.4, -11.7, -2.1, -6.3, 8.1, -15.2, -0.9, 3.2, -18.5,
  -3.1, -7.0, 2.0, -12.4, -1.8, -4.7, 3.6, -15.8, -0.3, -9.2, 6.3, -19.1, -2.7, 8.7,
  -3.1, 0.8, -7.1, 4.4, -11.6, -1.5, 2.2, -4.3, 8.1, -15.4, -0.8, -9.2, 5.9, -2.6,
  2.5, -6.2, 0.4, 5.0, -2.9, 9.3, -10.0, 1.8, -0.5, 7.8, -13.7, 3.7, 12.0, -4.2,
  -1.3, 3.5, 8.3, 0.8, 11.2, -5.6, 2.9, 5.6, -9.1, 14.8, 2.2, 8.5, -2.9, 17.1,
  5.3, 1.7, 11.1, -2.5, 4.2, 8.2, -6.0, 14.4, 2.6, 6.5, -9.3, 17.7, -0.2, 9.6,
  3.5, 9.2, 4.8, 14.3, -0.2, 7.0, 17.1, -3.4, 10.4, 4.3, 19.9, -6.9, 6.3, 12.6,
  7.1, 1.5, 10.5, 5.3, 15.7, -1.1, 8.4, 18.9, -4.4, 12.0, 5.8, 19.7, 3.0, 13.8,
];
const redPhaseC = [
  0.0012,0.0068,0.0098,0.0142,0.0188,0.0212,0.0248,0.0288,0.0352,0.0392,
  0.0425,0.0455,0.0495,0.0535,0.0575,0.0625,0.0655,0.0705,0.0725,0.0765,
  0.0812,0.0868,0.0898,0.0942,0.0988,0.1012,0.1048,0.1088,0.1152,0.1192,
  0.1225,0.1255,0.1295,0.1335,0.1375,0.1425,0.1455,0.1505,0.1525,0.1565,
  0.1612,0.1668,0.1698,0.1742,0.1788,0.1812,0.1848,0.1888,0.1952,0.1992,
  0.2025,0.2055,0.2095,0.2135,0.2175,0.2225,0.2255,0.2305,0.2325,0.2365,
  0.2412,0.2468,0.2498,0.2542,0.2588,0.2612,0.2648,0.2688,0.2752,0.2792,
  0.2825,0.2855,0.2895,0.2935,0.2975,0.3025,0.3055,0.3105,0.3125,0.3165,
  0.3212,0.3268,0.3298,0.3342,0.3388,0.3412,0.3448,0.3488,0.3552,0.3592,
  0.3625,0.3655,0.3695,0.3735,0.3775,0.3825,0.3855,0.3905,0.3925,0.3965,
  0.4012,0.4068,0.4098,0.4142,0.4188,0.4212,0.4248,0.4288,0.4352,0.4392,
  0.4425,0.4455,0.4495,0.4535,0.4575,0.4625,0.4655,0.4705,0.4725,0.4765,
  0.4812,0.4868,0.4898,0.4942,0.4988,0.5012,0.5048,0.5088,0.5152,0.5192,
  0.5225,0.5255,0.5295,0.5335,0.5375,0.5425,0.5455,0.5505,0.5525,0.5565,
  0.5612,0.5668,0.5698,0.5742,0.5788,0.5812,0.5848,0.5888,0.5952,0.5992,
  0.6025,0.6055,0.6095,0.6135,0.6175,0.6225,0.6255,0.6305,0.6325,0.6365,
  0.6412,0.6468,0.6498,0.6542,0.6588,0.6612,0.6648,0.6688,0.6752,0.6792,
  0.6825,0.6855,0.6895,0.6935,0.6975,0.7025,0.7055,0.7105,0.7125,0.7165,
  0.7212,0.7268,0.7298,0.7342,0.7388,0.7412,0.7448,0.7488,0.7552,0.7592,
  0.7625,0.7655,0.7695,0.7735,0.7775,0.7825,0.7855,0.7905,0.7925,0.7965,
  0.8012,0.8068,0.8098,0.8142,0.8188,0.8212,0.8248,0.8288,0.8352,0.8392,
  0.8425,0.8455,0.8495,0.8535,0.8575,0.8625,0.8655,0.8705,0.8725,0.8765,
  0.8812,0.8868,0.8898,0.8942,0.8988,0.9012,0.9048,0.9088,0.9152,0.9192,
  0.9225,0.9255,0.9295,0.9335,0.9375,0.9425,0.9455,0.9505,0.9525,0.9565,
  0.9612,0.9668,0.9698,0.9742,0.9788,0.9812,0.9848,0.9888,0.9952,0.9992,
];
const redMagC = [
  4.3, 11.7, 7.6, -1.0, 16.5, 9.8, 2.6, 19.6, 5.9, 13.7,
  9.6, 2.1, 13.8, 5.7, -3.4, 16.7, 4.0, 11.4, -6.2, 8.1,
  4.0, 12.2, -0.6, 8.3, 15.5, -4.7, 6.1, 2.3, 18.4, 9.6,
  8.3, 0.3, 5.0, -8.1, 2.5, 10.2, -2.6, 13.4, 2.0, -11.3,
  -3.1, 4.9, -8.3, 1.2, 7.1, -1.0, 10.5, -12.6, 3.8, 0.2,
  -0.2, -8.1, 2.0, -4.0, 7.6, -12.9, -1.4, 4.9, -16.5, -5.7,
  -7.4, -0.5, -3.2, 5.1, -11.3, 1.8, -15.6, -1.8, 7.9, -5.5,
  0.6, -5.7, -11.8, -1.1, 3.5, -8.0, -2.7, -16.4, 6.5, -19.6,
  -5.1, 2.2, -10.4, -3.3, -14.8, -0.5, 5.1, -7.2, -18.6, 8.5,
  0.2, -6.9, -2.1, 4.0, -12.2, -4.4, 9.0, -15.7, 1.6, -9.6,
  -5.6, -1.5, 4.7, -9.0, 0.3, -13.5, -2.2, 7.2, -17.3, -3.6,
  2.9, -7.0, -2.4, 0.4, -10.9, 6.5, -4.3, -14.7, -0.9, 9.7,
  -0.8, 3.3, -7.6, 5.4, -4.0, 0.3, -12.1, 8.8, -15.9, 1.9,
  0.7, -5.6, 4.0, -9.6, -0.8, 6.4, -3.1, -13.0, 10.0, -16.8,
  -5.0, 1.0, -2.3, 7.2, -8.0, -0.1, 3.7, -12.3, -15.8, 10.6,
  1.8, -2.8, -9.1, -0.6, 5.6, -5.4, 8.5, -12.9, 0.7, -17.0,
  -4.0, 2.6, -1.6, -7.8, 5.7, -11.6, 1.0, -15.3, 9.1, -2.5,
  -1.3, -8.0, 3.2, -3.7, -11.8, 1.1, 6.5, -14.8, -18.6, -2.0,
  -4.4, -0.4, -8.4, 3.4, -11.6, -2.5, -15.5, 6.1, -19.2, -1.1,
  1.9, -4.8, -1.3, -9.5, 5.6, -12.7, 0.1, -6.1, 9.5, -16.2,
  -3.6, 1.9, 6.5, -0.2, -8.7, 4.3, 10.5, -11.2, 1.1, -15.4,
  4.5, -1.6, 10.3, 1.5, 7.0, -6.2, 13.4, 2.7, -9.8, 17.3,
  2.1, 8.9, 4.3, -2.9, 13.3, 6.4, -6.4, 16.5, 0.7, 19.3,
  9.0, 5.1, -0.1, 12.7, 6.7, -4.2, 17.5, 10.1, -7.9, 20.3,
  3.9, 12.6, 7.8, -0.9, 15.4, 6.0, 18.7, 10.3, -4.3, 20.4,
];

// binned means (phase bins of 0.04)
const binPhase = [0.02,0.06,0.10,0.14,0.18,0.22,0.26,0.30,0.34,0.38,0.42,0.46,0.50,0.54,0.58,0.62,0.66,0.70,0.74,0.78,0.82,0.86,0.90,0.94,0.98];
const blueMean = [6.1,6.1,4.3,1.7,0.2,-2.2,-3.3,-3.6,-2.4,-2.2,-2.4,-2.0,-1.1,-1.25,-2.1,-2.0,-1.0,-3.0,-3.5,-3.0,-0.7,2.1,3.0,5.3,5.8];
const blueErr = [1.0,0.9,0.9,0.8,0.8,0.8,0.8,0.8,0.8,0.8,0.8,0.8,0.9,0.8,0.8,0.8,0.9,0.8,0.8,0.8,0.9,0.9,0.9,1.0,1.0];
const redMean = [6.7,5.5,4.6,2.1,0.0,-2.0,-2.7,-2.8,-3.6,-2.5,-2.7,-1.7,-0.6,-0.8,-1.4,-1.2,-1.8,-2.4,-3.5,-2.1,0.2,2.4,3.8,5.7,6.4];
const redErr = [0.8,0.7,0.7,0.7,0.6,0.6,0.7,0.6,0.7,0.7,0.6,0.6,0.7,0.6,0.6,0.7,0.7,0.6,0.7,0.6,0.7,0.7,0.7,0.8,0.8];

// correlation fit and residual histogram
const FIT_SLOPE = 0.99;
const histEdges = [-0.865, -0.519, -0.173, 0.173, 0.519, 0.865];
const histCounts = [2, 6, 9, 4, 4];
const gaussX = [-1.3,-1.2,-1.1,-1.0,-0.9,-0.8,-0.7,-0.6,-0.5,-0.4,-0.3,-0.2,-0.1,0,0.1,0.2,0.3,0.4,0.5,0.6,0.7,0.8,0.9,1.0,1.1,1.2,1.3];
const gaussY = [0.12,0.22,0.38,0.64,1.03,1.56,2.26,3.12,4.10,5.12,6.09,6.89,7.41,7.60,7.41,6.89,6.09,5.12,4.10,3.12,2.26,1.56,1.03,0.64,0.38,0.22,0.12];

// axis ranges
const AMP_MAX = 4.22;
const INSET_F = [0.16, 2.11];
const PH_MIN = -0.245, PH_MAX = 1.25;
const SC_X = [-22.9, 22.5];
const SC_Y = [-22.7, 22.1];
const HIST_X = [-1.75, 1.76];

// ---------------- helpers ----------------
type Part = { t: string; s?: 'sub' | 'sup' };
type TextItem = {
  parts: Part[] | string; x?: number; y?: number; data?: [number, number]; xs?: string; ys?: string;
  dx?: number; dy?: number; size: number; align?: 'left' | 'center' | 'right'; rot?: number; under?: boolean; color?: string;
};

function makeTicks(min: number, max: number, step: number) {
  const out: any[] = [];
  const k0 = Math.ceil(min / step - 1e-9);
  const k1 = Math.floor(max / step + 1e-9);
  for (let k = k0; k <= k1; k++) out.push({ value: Math.round(k * step * 1e6) / 1e6 });
  return out;
}
function isMajor(v: number, major: number) {
  const r = v / major;
  return Math.abs(r - Math.round(r)) < 1e-6;
}
const fmtNum = (v: number) => String(Math.round(v * 1000) / 1000);
const minusFmt = (v: number) => (v < -1e-9 ? '\u2212' + fmtNum(-v) : fmtNum(Math.abs(v)));

type AxOpt = {
  pos: 'left' | 'right' | 'top' | 'bottom'; min: number; max: number; minor: number; major: number; size: number;
  pad?: number; font?: number; reverse?: boolean; fmt?: (v: number) => string;
};
function axis(o: AxOpt) {
  const horiz = o.pos === 'top' || o.pos === 'bottom';
  return {
    type: 'linear', axis: horiz ? 'x' : 'y', position: o.pos, min: o.min, max: o.max, reverse: !!o.reverse,
    offset: false, bounds: 'data',
    grid: { display: false, drawTicks: false, tickLength: 0 },
    border: { display: false },
    title: { display: false },
    afterBuildTicks: (s: any) => { s.ticks = makeTicks(o.min, o.max, o.minor); },
    afterFit: (s: any) => {
      if (horiz) s.height = o.size; else s.width = o.size;
      s.paddingLeft = 0; s.paddingRight = 0; s.paddingTop = 0; s.paddingBottom = 0;
    },
    ticks: {
      display: true, autoSkip: false, maxRotation: 0, minRotation: 0, padding: o.pad ?? 3,
      font: { size: o.font ?? 17, lineHeight: 1, family: FONT }, color: '#000',
      callback: (v: number) => (isMajor(v, o.major) ? (o.fmt ?? minusFmt)(v) : ''),
    },
  };
}

function baseOptions(padding: any, scales: any) {
  return {
    animation: false, responsive: false, maintainAspectRatio: false, devicePixelRatio: 1, events: [],
    layout: { padding, autoPadding: false },
    plugins: { legend: { display: false }, tooltip: { enabled: false }, title: { display: false } },
    scales,
  };
}

function drawRich(ctx: CanvasRenderingContext2D, parts: Part[], x: number, y: number, size: number, align: string, rot: number, color: string) {
  const small = size * 0.72;
  ctx.save();
  ctx.translate(x, y);
  if (rot) ctx.rotate(rot);
  ctx.fillStyle = color;
  ctx.textAlign = 'left';
  ctx.textBaseline = 'alphabetic';
  const ws = parts.map((p) => { ctx.font = `${p.s ? small : size}px ${FONT}`; return ctx.measureText(p.t).width; });
  const total = ws.reduce((a, b) => a + b, 0);
  let cx = align === 'center' ? -total / 2 : align === 'right' ? -total : 0;
  const base = size * 0.36;
  parts.forEach((p, i) => {
    ctx.font = `${p.s ? small : size}px ${FONT}`;
    const dy = p.s === 'sub' ? size * 0.3 : p.s === 'sup' ? -size * 0.42 : 0;
    ctx.fillText(p.t, cx, base + dy);
    cx += ws[i];
  });
  ctx.restore();
}

function textPlugin(items: TextItem[], ox: number, oy: number) {
  const draw = (chart: any, under: boolean) => {
    const ctx = chart.ctx;
    for (const it of items) {
      if (!!it.under !== under) continue;
      let x: number, y: number;
      if (it.data) {
        x = chart.scales[it.xs ?? 'x'].getPixelForValue(it.data[0]);
        y = chart.scales[it.ys ?? 'y'].getPixelForValue(it.data[1]);
      } else {
        x = (it.x ?? 0) - ox;
        y = (it.y ?? 0) - oy;
      }
      const parts = typeof it.parts === 'string' ? [{ t: it.parts }] : it.parts;
      drawRich(ctx, parts, x + (it.dx ?? 0), y + (it.dy ?? 0), it.size, it.align ?? 'center', it.rot ?? 0, it.color ?? '#000');
    }
  };
  return { id: 'texts', beforeDatasetsDraw: (c: any) => draw(c, true), afterDraw: (c: any) => draw(c, false) };
}

function framePlugin(spec: { x: string; y: string; xMajor: number; yMajor: number; len?: number; minorLen?: number; zeroY?: number; lw?: number }) {
  return {
    id: 'frame',
    afterDatasetsDraw(chart: any) {
      const { ctx, chartArea: a } = chart;
      const xs = chart.scales[spec.x];
      const ys = chart.scales[spec.y];
      const L = spec.len ?? 9;
      const l = spec.minorLen ?? 5;
      ctx.save();
      ctx.strokeStyle = '#000';
      ctx.lineWidth = 1;
      ctx.beginPath();
      for (const t of xs.ticks) {
        const p = xs.getPixelForValue(t.value);
        if (p < a.left - 0.5 || p > a.right + 0.5) continue;
        const maj = isMajor(t.value, spec.xMajor);
        const len = maj ? L : l;
        ctx.moveTo(p, a.top); ctx.lineTo(p, a.top + len);
        ctx.moveTo(p, a.bottom); ctx.lineTo(p, a.bottom - len);
        if (spec.zeroY !== undefined && maj) {
          const z = ys.getPixelForValue(spec.zeroY);
          ctx.moveTo(p, z - len); ctx.lineTo(p, z + len);
        }
      }
      for (const t of ys.ticks) {
        const p = ys.getPixelForValue(t.value);
        if (p < a.top - 0.5 || p > a.bottom + 0.5) continue;
        const len = isMajor(t.value, spec.yMajor) ? L : l;
        ctx.moveTo(a.left, p); ctx.lineTo(a.left + len, p);
        ctx.moveTo(a.right, p); ctx.lineTo(a.right - len, p);
      }
      ctx.stroke();
      ctx.lineWidth = spec.lw ?? 1.5;
      if (spec.zeroY !== undefined) {
        const z = ys.getPixelForValue(spec.zeroY);
        ctx.beginPath(); ctx.moveTo(a.left, z); ctx.lineTo(a.right, z); ctx.stroke();
      }
      ctx.strokeRect(a.left, a.top, a.right - a.left, a.bottom - a.top);
      ctx.restore();
    },
  };
}

const errorBarPlugin = {
  id: 'errorBars',
  afterDatasetsDraw(chart: any) {
    const ctx = chart.ctx;
    chart.data.datasets.forEach((ds: any, i: number) => {
      if (!ds.errBars) return;
      const meta = chart.getDatasetMeta(i);
      const xs = chart.scales[meta.xAxisID];
      const ys = chart.scales[meta.yAxisID];
      ctx.save();
      ctx.strokeStyle = ds.borderColor;
      ctx.lineWidth = 1.3;
      ctx.beginPath();
      ds.data.forEach((pt: any) => {
        const px = xs.getPixelForValue(pt.x);
        const py = ys.getPixelForValue(pt.y);
        if (pt.ey) { ctx.moveTo(px, ys.getPixelForValue(pt.y - pt.ey)); ctx.lineTo(px, ys.getPixelForValue(pt.y + pt.ey)); }
        if (pt.ex) { ctx.moveTo(xs.getPixelForValue(pt.x - pt.ex), py); ctx.lineTo(xs.getPixelForValue(pt.x + pt.ex), py); }
      });
      ctx.stroke();
      ctx.restore();
    });
  },
};

const whiteBg = {
  id: 'whiteBg',
  beforeDraw(chart: any) {
    const { ctx, chartArea: a } = chart;
    ctx.save(); ctx.fillStyle = '#fff'; ctx.fillRect(a.left, a.top, a.right - a.left, a.bottom - a.top); ctx.restore();
  },
};

const NU: Part[] = [{ t: '\u03bd' }, { t: '0', s: 'sub' }];
const NU2: Part[] = [{ t: '2\u03bd' }, { t: '0', s: 'sub' }];
const FREQ_TITLE: Part[] = [{ t: 'Frequency [d' }, { t: '\u22121', s: 'sup' }, { t: ']' }];

// ---------------- chart factories ----------------
function makeSpectrum() {
  const blue = blueAmp.map((a, i) => ({ x: i * FREQ_STEP, y: a }));
  const red = redAmp.map((a, i) => ({ x: i * FREQ_STEP, y: -a }));
  const f0 = peakIdx[0] * FREQ_STEP, f1 = peakIdx[1] * FREQ_STEP;
  const texts: TextItem[] = [
    { parts: FREQ_TITLE, x: 218.5, y: 16, size: 18 },
    { parts: FREQ_TITLE, x: 218.5, y: 591, size: 18 },
    { parts: 'Semi\u2212Amplitude [mmag]', x: 17, y: 301.5, size: 18, rot: -Math.PI / 2 },
    { parts: NU, data: [f0, blueAmp[peakIdx[0]]], dx: -3.5, dy: -11.5, size: 13, align: 'left' },
    { parts: NU2, data: [f1, blueAmp[peakIdx[1]]], dx: -6.5, dy: -7.5, size: 13, align: 'left' },
    { parts: NU2, data: [f1, -redAmp[peakIdx[1]]], dx: -6.5, dy: 10, size: 13, align: 'left' },
    { parts: NU, data: [f0, -redAmp[peakIdx[0]]], dx: -3.5, dy: 4.5, size: 13, align: 'left' },
  ];
  return {
    type: 'line',
    data: {
      datasets: [
        { data: red, borderColor: FIREBRICK, borderWidth: 1.6, pointRadius: 0, borderJoinStyle: 'bevel', tension: 0 },
        { data: blue, borderColor: NAVY, borderWidth: 1.6, pointRadius: 0, borderJoinStyle: 'bevel', tension: 0 },
      ],
    },
    options: baseOptions({ left: 0, top: 0, right: 13, bottom: 0 }, {
      x: axis({ pos: 'bottom', min: 0, max: 7, minor: 0.2, major: 1, size: 54, pad: 5 }),
      x2: axis({ pos: 'top', min: 0, max: 7, minor: 0.2, major: 1, size: 50, pad: 0 }),
      y: axis({ pos: 'left', min: -AMP_MAX, max: AMP_MAX, minor: 0.2, major: 1, size: 50, pad: 4, fmt: (v) => fmtNum(Math.abs(v)) }),
    }),
    plugins: [framePlugin({ x: 'x', y: 'y', xMajor: 1, yMajor: 1, zeroY: 0, len: 10, minorLen: 5 }), textPlugin(texts, 0, 0)],
  };
}

function makeInset(isRed: boolean) {
  const amp = isRed ? redAmp : blueAmp;
  const data = amp
    .map((a, i) => ({ x: i * FREQ_STEP, y: a }))
    .filter((p) => p.x >= INSET_F[0] - FREQ_STEP && p.x <= INSET_F[1] + FREQ_STEP);
  const ox = 150, oy = isRed ? 355 : 55;
  const f0 = peakIdx[0] * FREQ_STEP, f1 = peakIdx[1] * FREQ_STEP;
  const texts: TextItem[] = isRed
    ? [
        { parts: '\u03b6 Pup, BRITE [Red Filter], DFT', x: 248.5, y: 371, size: 13 },
        { parts: 'Semi\u2212Amplitude [mmag]', x: 358, y: 452.5, size: 11, rot: -Math.PI / 2 },
        { parts: NU2, data: [f1, amp[peakIdx[1]]], dx: -11, dy: 4.5, size: 12, align: 'left' },
        { parts: NU, data: [f0, amp[peakIdx[0]]], dx: -5.5, dy: 2, size: 12, align: 'left' },
      ]
    : [
        { parts: '\u03b6 Pup, BRITE [Blue Filter], DFT', x: 248.5, y: 234, size: 13 },
        { parts: 'Semi\u2212Amplitude [mmag]', x: 358, y: 151.5, size: 11, rot: -Math.PI / 2 },
        { parts: NU, data: [f0, amp[peakIdx[0]]], dx: -5.5, dy: -8.5, size: 12, align: 'left' },
        { parts: NU2, data: [f1, amp[peakIdx[1]]], dx: -11, dy: -4.7, size: 12, align: 'left' },
      ];
  return {
    type: 'line',
    data: { datasets: [{ data, borderColor: isRed ? FIREBRICK : NAVY, borderWidth: 1.25, pointRadius: 0, borderJoinStyle: 'bevel', tension: 0 }] },
    options: baseOptions(isRed ? { left: 7, top: 27, right: 0, bottom: 0 } : { left: 7, top: 0, right: 0, bottom: 23 }, {
      x: axis({ pos: isRed ? 'bottom' : 'top', min: INSET_F[0], max: INSET_F[1], minor: 0.1, major: 1, size: isRed ? 22 : 26, pad: isRed ? 5 : 2, font: 12 }),
      y: axis({ pos: 'right', min: 0, max: isRed ? 4.33 : 4.4, reverse: isRed, minor: 0.2, major: 1, size: 40, pad: 3, font: 12 }),
    }),
    plugins: [whiteBg, framePlugin({ x: 'x', y: 'y', xMajor: 1, yMajor: 1, len: 6, minorLen: 3, lw: 1.2 }), textPlugin(texts, ox, oy)],
  };
}

function makePhase(isRed: boolean) {
  const ph = isRed ? redPhase.concat(redPhaseB, redPhaseC) : bluePhase.concat(bluePhaseB, bluePhaseC);
  const mg = isRed ? redMag.concat(redMagB, redMagC) : blueMag.concat(blueMagB, blueMagC);
  const mean = isRed ? redMean : blueMean;
  const err = isRed ? redErr : blueErr;
  const col = isRed ? FIREBRICK : NAVY;
  const black = ph.map((p, i) => ({ x: p, y: mg[i] }));
  const gray: any[] = [];
  ph.forEach((p, i) => {
    if (p + 1 <= PH_MAX) gray.push({ x: p + 1, y: mg[i] });
    if (p - 1 >= PH_MIN) gray.push({ x: p - 1, y: mg[i] });
  });
  const filled = binPhase.map((p, i) => ({ x: p, y: mean[i], ey: err[i] }));
  const open: any[] = [];
  binPhase.forEach((p, i) => {
    if (p + 1 <= PH_MAX) open.push({ x: p + 1, y: mean[i] });
    if (p - 1 >= PH_MIN) open.push({ x: p - 1, y: mean[i] });
  });
  const oy = isRed ? 300 : 0;
  const texts: TextItem[] = isRed
    ? [
        { parts: '\u03b6 Pup, BRITE [Red Filter],  P = 1.78063(25) d', x: 614, y: 318, size: 13.5, under: true, color: '#222' },
        { parts: 'Phase [to HJD 2452738.7]', x: 614, y: 591, size: 18 },
        { parts: [{ t: '\u0394m' }, { t: 'Red', s: 'sub' }, { t: ' [mmag]' }], x: 829, y: 427, size: 18, rot: -Math.PI / 2 },
      ]
    : [
        { parts: '\u03b6 Pup, BRITE [Blue Filter],  P = 1.78063(25) d', x: 614, y: 77, size: 13.5, under: true, color: '#222' },
        { parts: 'Phase [to HJD 2452738.7]', x: 614, y: 16, size: 18 },
        { parts: [{ t: '\u0394m' }, { t: 'Blue', s: 'sub' }, { t: ' [mmag]' }], x: 829, y: 175.5, size: 18, rot: -Math.PI / 2 },
      ];
  const dot = { pointStyle: 'rect', pointRadius: 1.35, borderWidth: 0 };
  return {
    type: 'scatter',
    data: {
      datasets: [
        { data: gray, backgroundColor: GRAY_DOT, borderColor: GRAY_DOT, ...dot },
        { data: black, backgroundColor: '#000', borderColor: '#000', ...dot },
        { data: open, backgroundColor: '#fff', borderColor: col, pointRadius: 3.1, borderWidth: 1.6 },
        { data: filled, backgroundColor: col, borderColor: col, pointRadius: 3.7, borderWidth: 0, errBars: true },
      ],
    },
    options: baseOptions(isRed ? { left: 46, top: 1, right: 0, bottom: 0 } : { left: 46, top: 0, right: 0, bottom: 1 }, {
      x: axis({ pos: isRed ? 'bottom' : 'top', min: PH_MIN, max: PH_MAX, minor: 0.05, major: 0.5, size: isRed ? 54 : 50, pad: isRed ? 5 : 0 }),
      y: axis({ pos: 'right', min: isRed ? -22.6 : -22.7, max: isRed ? 22.5 : 22.3, reverse: true, minor: 2, major: 10, size: 58, pad: 3 }),
    }),
    plugins: [errorBarPlugin, framePlugin({ x: 'x', y: 'y', xMajor: 0.5, yMajor: 10 }), textPlugin(texts, 400, oy)],
  };
}

function makeCorrelation() {
  const pts = redMean.map((r, i) => ({ x: r, y: blueMean[i], ex: redErr[i], ey: blueErr[i] }));
  const fit = SC_X.map((x) => ({ x, y: FIT_SLOPE * x }));
  const texts: TextItem[] = [
    { parts: [{ t: '\u0394m' }, { t: 'Red', s: 'sub' }, { t: ' [mmag]' }], x: 1002.5, y: 12, size: 18 },
    { parts: '\u03b6 Pup, BRITE', x: 894, y: 70, size: 13, align: 'left', color: '#222' },
    { parts: '\u03c1 = 0.982', x: 894, y: 93, size: 13, align: 'left', color: '#222' },
    { parts: 'Slope: 0.99 \u00b1 0.09', x: 894, y: 115, size: 13, align: 'left', color: '#222' },
  ];
  return {
    type: 'scatter',
    data: {
      datasets: [
        { data: fit, showLine: true, borderColor: '#000', borderWidth: 1.6, pointRadius: 0 },
        { data: pts, backgroundColor: '#000', borderColor: '#000', pointRadius: 3.3, borderWidth: 0, errBars: true },
      ],
    },
    options: baseOptions({ left: 0, top: 0, right: 51, bottom: 2 }, {
      x: axis({ pos: 'top', min: SC_X[0], max: SC_X[1], reverse: true, minor: 2, major: 10, size: 50, pad: 0 }),
      y: axis({ pos: 'left', min: SC_Y[0], max: SC_Y[1], reverse: true, minor: 2, major: 10, size: 36, pad: 4 }),
    }),
    plugins: [errorBarPlugin, framePlugin({ x: 'x', y: 'y', xMajor: 10, yMajor: 10 }), textPlugin(texts, 840, 0)],
  };
}

function makeHistogram() {
  const bars = histCounts.map((c, i) => ({ x: (histEdges[i] + histEdges[i + 1]) / 2, y: c }));
  const curve = gaussX.map((x, i) => ({ x, y: gaussY[i] }));
  const binWidthPx = (ctx: any) => {
    const s = ctx.chart.scales.x;
    if (!s) return undefined;
    return Math.abs(s.getPixelForValue(histEdges[1]) - s.getPixelForValue(histEdges[0]));
  };
  const texts: TextItem[] = [
    { parts: 'Orthogonal Distances [mmag]', x: 1002.5, y: 587.5, size: 18 },
    { parts: 'Frequency', x: 1162, y: 434.5, size: 18, rot: -Math.PI / 2 },
    { parts: '\u03c3 = 0.45 \u00b1 0.07 mmag', x: 1002.5, y: 334, size: 13, color: '#222' },
  ];
  return {
    type: 'bar',
    data: {
      datasets: [
        {
          type: 'bar', xAxisID: 'xb', data: bars, backgroundColor: HIST_FILL, borderColor: '#2a2a2a', borderWidth: 1.2,
          borderSkipped: false, barPercentage: 1, categoryPercentage: 1, grouped: false, barThickness: binWidthPx, order: 2,
        },
        { type: 'line', xAxisID: 'x', data: curve, borderColor: '#000', borderWidth: 2.6, pointRadius: 0, tension: 0.4, order: 1 },
      ],
    },
    options: baseOptions({ left: 36, top: 14, right: 0, bottom: 0 }, {
      x: axis({ pos: 'bottom', min: HIST_X[0], max: HIST_X[1], minor: 0.1, major: 1, size: 53, pad: 4 }),
      xb: {
        type: 'linear', axis: 'x', position: 'bottom', display: false, min: HIST_X[0], max: HIST_X[1], offset: false, bounds: 'data',
        afterBuildTicks: (s: any) => { s.ticks = []; },
      },
      y: axis({ pos: 'right', min: 0, max: 10.58, minor: 0.5, major: 2, size: 51, pad: 3 }),
    }),
    plugins: [framePlugin({ x: 'x', y: 'y', xMajor: 1, yMajor: 2 }), textPlugin(texts, 840, 301)],
  };
}

// ---------------- components ----------------
function ChartCanvas(props: { left: number; top: number; width: number; height: number; make: () => any }) {
  const { left, top, width, height, make } = props;
  const ref = useRef<HTMLCanvasElement | null>(null);
  useEffect(() => {
    if (!ref.current) return;
    const chart = new Chart(ref.current, make());
    return () => chart.destroy();
  }, [make]);
  return (
    <canvas
      ref={ref}
      width={width}
      height={height}
      style={{ position: 'absolute', left, top, width, height, display: 'block' }}
    />
  );
}

const makeBlueInset = () => makeInset(false);
const makeRedInset = () => makeInset(true);
const makeBluePhase = () => makePhase(false);
const makeRedPhase = () => makePhase(true);

export default function App() {
  return (
    <div style={{ position: 'fixed', left: 0, top: 0, width: 1180, height: 607, background: '#fff', overflow: 'hidden', fontFamily: FONT }}>
      <ChartCanvas left={0} top={0} width={400} height={607} make={makeSpectrum} />
      <ChartCanvas left={150} top={55} width={230} height={190} make={makeBlueInset} />
      <ChartCanvas left={150} top={355} width={230} height={190} make={makeRedInset} />
      <ChartCanvas left={400} top={0} width={440} height={302} make={makeBluePhase} />
      <ChartCanvas left={400} top={300} width={440} height={307} make={makeRedPhase} />
      <ChartCanvas left={840} top={0} width={340} height={302} make={makeCorrelation} />
      <ChartCanvas left={840} top={301} width={340} height={306} make={makeHistogram} />
    </div>
  );
}
